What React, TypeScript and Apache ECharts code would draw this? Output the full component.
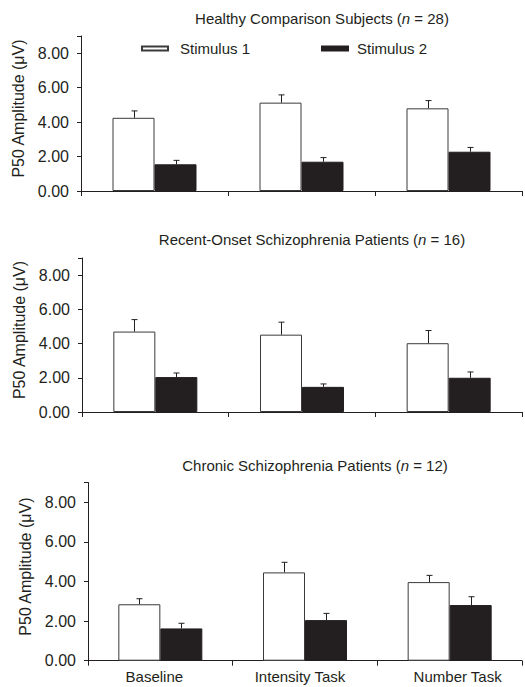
import React, { useEffect, useRef } from "react";
import * as echarts from "echarts";

const categories = ["Baseline", "Intensity Task", "Number Task"];
const panelTitles = [
  ["Healthy Comparison Subjects (", "n", " = 28)"],
  ["Recent-Onset Schizophrenia Patients (", "n", " = 16)"],
  ["Chronic Schizophrenia Patients (", "n", " = 12)"],
];
const seriesNames = ["Stimulus 1", "Stimulus 2"];
const yTicks = [0, 2, 4, 6, 8];

// means
const healthyS1 = [4.25, 5.13, 4.8];
const healthyS2 = [1.55, 1.7, 2.28];
const recentS1 = [4.7, 4.52, 4.02];
const recentS2 = [2.04, 1.47, 2.0];
const chronicS1 = [2.85, 4.46, 3.97];
const chronicS2 = [1.63, 2.05, 2.81];
// standard errors (upper whisker length)
const healthyErrS1 = [0.4, 0.45, 0.45];
const healthyErrS2 = [0.23, 0.24, 0.25];
const recentErrS1 = [0.7, 0.73, 0.74];
const recentErrS2 = [0.24, 0.17, 0.34];
const chronicErrS1 = [0.28, 0.51, 0.34];
const chronicErrS2 = [0.26, 0.34, 0.42];

const panels = [
  { s1: healthyS1, s2: healthyS2, e1: healthyErrS1, e2: healthyErrS2 },
  { s1: recentS1, s2: recentS2, e1: recentErrS1, e2: recentErrS2 },
  { s1: chronicS1, s2: chronicS2, e1: chronicErrS1, e2: chronicErrS2 },
];

const INK = "#231f20";
const FONT = "Liberation Sans, Arial, sans-serif";
const BAR_W = 42;

const grids = [
  { left: 81, top: 36, right: 3, height: 155 },
  { left: 82, top: 258, right: 3, height: 154 },
  { left: 88, top: 482.5, right: 3, height: 178.2 },
];
const titlePos = [
  { x: 322, y: 9 },
  { x: 312, y: 230 },
  { x: 315, y: 456 },
];
const nameGaps = [45, 46, 52];
const catLabelStyle = ["c0", "c1", "c2"];

export default function App() {
  const ref = useRef<HTMLDivElement>(null);
  useEffect(() => {
    if (!ref.current) return;
    const chart = echarts.init(ref.current, undefined, { renderer: "svg" });

    const renderErr = (params: any, api: any) => {
      const cat = api.value(0);
      const mean = api.value(1);
      const err = api.value(2);
      const which = api.value(3);
      const base = api.coord([cat, mean]);
      const top = api.coord([cat, mean + err]);
      const x = Math.round(base[0] + (which === 0 ? -BAR_W / 2 : BAR_W / 2)) + 0.5;
      const st = { stroke: INK, lineWidth: 1 };
      return {
        type: "group",
        children: [
          { type: "line", shape: { x1: x, y1: base[1], x2: x, y2: top[1] }, style: st },
          { type: "line", shape: { x1: x - 3, y1: top[1], x2: x + 3, y2: top[1] }, style: st },
        ],
      };
    };

    const series: any[] = [];
    panels.forEach((p, i) => {
      series.push({
        type: "bar",
        name: seriesNames[0],
        xAxisIndex: i,
        yAxisIndex: i,
        data: p.s1,
        barWidth: BAR_W,
        barGap: "0%",
        itemStyle: { color: "#ffffff", borderColor: "#3a3a3a", borderWidth: 1 },
      });
      series.push({
        type: "bar",
        name: seriesNames[1],
        xAxisIndex: i,
        yAxisIndex: i,
        data: p.s2,
        barWidth: BAR_W,
        barGap: "0%",
        itemStyle: { color: INK, borderColor: INK, borderWidth: 1 },
      });
      const errData: number[][] = [];
      p.s1.forEach((v, k) => errData.push([k, v, p.e1[k], 0]));
      p.s2.forEach((v, k) => errData.push([k, v, p.e2[k], 1]));
      series.push({
        type: "custom",
        name: "err" + i,
        xAxisIndex: i,
        yAxisIndex: i,
        z: 5,
        renderItem: renderErr,
        encode: { x: 0, y: 1 },
        data: errData,
      });
    });

    const labelRich = {
      c0: { fontFamily: FONT, fontSize: 15, color: INK, padding: [0, 12, 0, 0] },
      c1: { fontFamily: FONT, fontSize: 15, color: INK, padding: [0, 10, 0, 0] },
      c2: { fontFamily: FONT, fontSize: 15, color: INK, padding: [0, 0, 0, 16] },
    };

    const option: any = {
      animation: false,
      backgroundColor: "#ffffff",
      textStyle: { fontFamily: FONT, color: INK },
      title: panelTitles.map((t, i) => ({
        text: `{r|${t[0]}}{i|${t[1]}}{r|${t[2]}}`,
        left: titlePos[i].x,
        top: titlePos[i].y,
        textAlign: "center",
        padding: 0,
        textStyle: {
          rich: {
            r: { fontFamily: FONT, fontSize: 15, color: INK, fontWeight: "normal", lineHeight: 18 },
            i: { fontFamily: FONT, fontSize: 15, color: INK, fontStyle: "italic", fontWeight: "normal", lineHeight: 18 },
          },
        },
      })),
      legend: [
        {
          data: [{ name: seriesNames[0], icon: "rect" }],
          left: 141,
          top: 41,
          padding: 0,
          itemWidth: 26,
          itemHeight: 4,
          selectedMode: false,
          textStyle: { fontFamily: FONT, fontSize: 15, color: INK, padding: [0, 0, 0, 7] },
        },
        {
          data: [{ name: seriesNames[1], icon: "rect" }],
          left: 321,
          top: 41,
          padding: 0,
          itemWidth: 26,
          itemHeight: 4,
          selectedMode: false,
          textStyle: { fontFamily: FONT, fontSize: 15, color: INK, padding: [0, 0, 0, 4] },
        },
      ],
      grid: grids.map((g) => ({ ...g, containLabel: false })),
      xAxis: grids.map((_, i) => ({
        type: "category",
        gridIndex: i,
        data: categories,
        boundaryGap: true,
        axisLine: { show: true, lineStyle: { color: INK, width: 1 } },
        axisTick: { show: true, length: 5, alignWithLabel: false, interval: 0, lineStyle: { color: INK } },
        axisLabel: {
          show: i === 2,
          interval: 0,
          margin: 8,
          fontFamily: FONT,
          fontSize: 15,
          color: INK,
          formatter: (v: string, idx: number) => `{${catLabelStyle[idx]}|${v}}`,
          rich: labelRich,
        },
        splitLine: { show: false },
      })),
      yAxis: grids.map((_, i) => ({
        type: "value",
        gridIndex: i,
        min: 0,
        max: 9,
        interval: 2,
        name: "P50 Amplitude (μV)",
        nameLocation: "middle",
        nameRotate: 90,
        nameGap: nameGaps[i],
        nameTextStyle: { fontFamily: FONT, fontSize: 16, color: INK, padding: [0, 0, 0, 10] },
        axisLine: { show: true, lineStyle: { color: INK, width: 1 } },
        axisTick: { show: true, length: 4, lineStyle: { color: INK } },
        axisLabel: {
          margin: 12,
          fontFamily: FONT,
          fontSize: 16,
          color: INK,
          formatter: (v: number) => (yTicks.includes(v) ? v.toFixed(2) : ""),
        },
        splitLine: { show: false },
      })),
      series,
    };
    chart.setOption(option);
    return () => chart.dispose();
  }, []);
  return (
    <div
      ref={ref}
      style={{ position: "absolute", left: 0, top: 0, width: 525, height: 687, background: "#fff" }}
    />
  );
}
